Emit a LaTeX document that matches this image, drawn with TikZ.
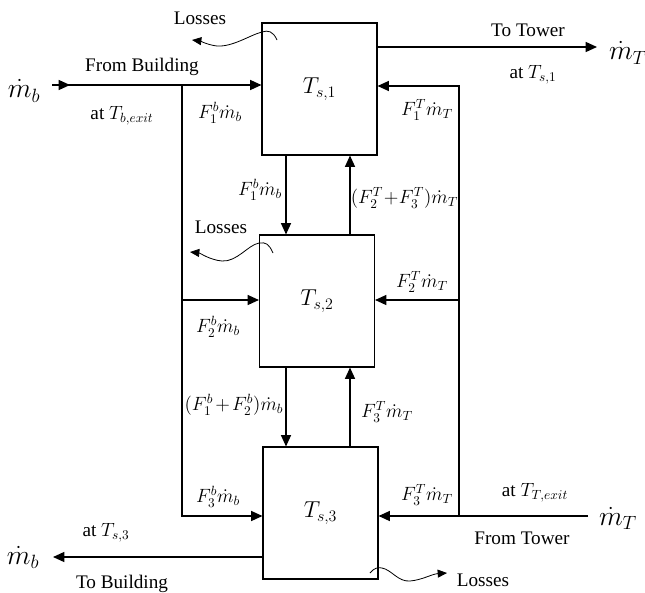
\documentclass[tikz,border=0pt]{standalone}
\usepackage{fontspec}
\setmainfont{Liberation Serif}
\usetikzlibrary{arrows.meta}
\begin{document}
\begin{tikzpicture}[
    x=0.75pt, y=-0.75pt,
    tank/.style={draw, line width=0.8pt, minimum width=86.25pt, minimum height=99pt,
                 inner sep=0pt, font=\LARGE},
    flow/.style={line width=1pt, -{Triangle[length=8.5pt,width=7.5pt]}},
    loss/.style={line width=0.6pt, -{Triangle[length=7pt,width=6pt]}},
    lbl/.style={inner sep=0pt, font=\Large},
    mlbl/.style={inner sep=0pt, font=\Large, execute at begin node={\medmuskip=2mu}},
    big/.style={inner sep=0pt, font=\huge}]
    \useasboundingbox (0,0) rectangle (645,592);
    % storage tanks
    \node[tank] (s1) at (319.5, 89)  {$T_{s,1}$};
    \node[tank] (s2) at (317, 301)   {$T_{s,2}$};
    \node[tank] (s3) at (320.5, 513) {$T_{s,3}$};
    % junctions and free ends
    \coordinate (bin)  at (52, 85);
    \coordinate (lb1)  at (182, 85);
    \coordinate (lb2)  at (182, 300);
    \coordinate (lb3)  at (182, 516);
    \coordinate (rb1)  at (459, 86);
    \coordinate (rb2)  at (459, 300);
    \coordinate (rb3)  at (459, 516);
    \coordinate (tin)  at (588, 516);
    \coordinate (tout) at (597, 47);
    \coordinate (bout) at (53, 557);
    \coordinate (dn)   at (286, 0);
    \coordinate (up)   at (350, 0);
    % building side
    \draw[flow] (bin) -- ++(18, 0);
    \draw[flow] (bin) -- (bin -| s1.west);
    \draw[flow] (lb1) -- (lb3) -- (lb3 -| s3.west);
    \draw[flow] (lb2) -- (lb2 -| s2.west);
    \draw[flow] (bout -| s3.west) -- (bout);
    % tower side
    \draw[flow] (tin) -- (tin -| s3.east);
    \draw[flow] (rb3) -- (rb1) -- (rb1 -| s1.east);
    \draw[flow] (rb2) -- (rb2 -| s2.east);
    \draw[flow] (tout -| s1.east) -- (tout);
    % between tanks
    \draw[flow] (dn |- s1.south) -- (dn |- s2.north);
    \draw[flow] (dn |- s2.south) -- (dn |- s3.north);
    \draw[flow] (up |- s2.north) -- (up |- s1.south);
    \draw[flow] (up |- s3.north) -- (up |- s2.south);
    % losses
    \draw[loss] (277,40) .. controls (273,31) and (268,30) .. (262,32)
        .. controls (250,35) and (233,47) .. (217,46)
        .. controls (208,45) and (200,41) .. (192,40);
    \draw[loss] (273,253) .. controls (269,244) and (266,242) .. (259,243)
        .. controls (248,245) and (237,262) .. (222,261)
        .. controls (210,260) and (200,253) .. (190,252);
    \draw[loss] (370,573) .. controls (374,568) and (378,567) .. (382,568)
        .. controls (392,570) and (398,582) .. (410,581)
        .. controls (422,580) and (432,574) .. (447,573);
    % mass flows
    \node[big] (mbin)  at (24, 91)   {$\dot m_b$};
    \node[big] (mtout) at (628, 53)  {$\dot m_T$};
    \node[big] (mbout) at (23, 557)  {$\dot m_b$};
    \node[big] (mtin)  at (618, 518) {$\dot m_T$};
    % labels
    \node[lbl] (fromb) at (142, 67)  {From Building};
    \node[lbl] (attb)  at (122, 116) {at $T_{b,exit}$};
    \node[lbl] (tot)   at (528, 30)  {To Tower};
    \node[lbl] (atts1) at (533, 75)  {at $T_{s,1}$};
    \node[lbl] (attt)  at (535, 493) {at $T_{T,exit}$};
    \node[lbl] (fromt) at (522, 538) {From Tower};
    \node[lbl] (atts3) at (106, 533) {at $T_{s,3}$};
    \node[lbl] (tob)   at (122, 584) {To Building};
    \node[lbl] (loss1) at (200, 18)  {Losses};
    \node[lbl] (loss2) at (221, 227) {Losses};
    \node[lbl] (loss3) at (483, 580) {Losses};
    \node[mlbl] (f1b)   at (220, 113) {$F_1^b\dot m_b$};
    \node[mlbl] (f1bd)  at (260, 190) {$F_1^b\dot m_b$};
    \node[mlbl] (f2b)   at (218, 327) {$F_2^b\dot m_b$};
    \node[mlbl] (f12b)  at (234, 405) {$(F_1^b+F_2^b)\dot m_b$};
    \node[mlbl] (f3b)   at (218, 497) {$F_3^b\dot m_b$};
    \node[mlbl] (f1t)   at (427, 110) {$F_1^T\dot m_T$};
    \node[mlbl, execute at begin node={\medmuskip=0.5mu}] (f23t) at (404.5, 198) {$(F_2^T+F_3^T)\dot m_T$};
    \node[mlbl] (f2t)   at (422, 282) {$F_2^T\dot m_T$};
    \node[mlbl] (f3tu)  at (387, 412) {$F_3^T\dot m_T$};
    \node[mlbl] (f3t)   at (427, 495) {$F_3^T\dot m_T$};
\end{tikzpicture}
\end{document}
